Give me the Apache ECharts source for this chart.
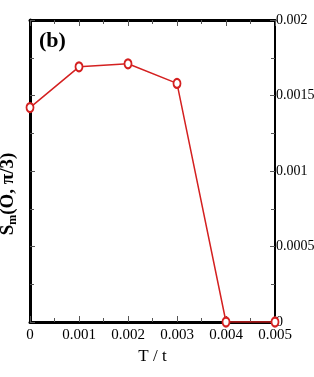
<!DOCTYPE html>
<html>
<head>
<meta charset="utf-8">
<script src="https://cdn.jsdelivr.net/npm/echarts@6/dist/echarts.min.js"></script>
<style>html,body{margin:0;padding:0;background:#fff;}#c{width:314px;height:377px;}</style>
</head>
<body>
<div id="c"></div>
<script>
var xValues = [0, 0.001, 0.002, 0.003, 0.004, 0.005];
var smValues = [0.00142, 0.00169, 0.00171, 0.00158, 0, 0];
var xTicks = ['0', '0.001', '0.002', '0.003', '0.004', '0.005'];
var yTicks = ['0', '0.0005', '0.001', '0.0015', '0.002'];

var xMap = {}; xValues.forEach(function(v,i){ xMap[v.toFixed(4)] = xTicks[i]; });
var yMap = {}; [0,0.0005,0.001,0.0015,0.002].forEach(function(v,i){ yMap[v.toFixed(5)] = yTicks[i]; });

var chart = echarts.init(document.getElementById('c'));
var font = 'Liberation Serif';
chart.setOption({
  animation: false,
  backgroundColor: '#fff',
  title: {
    text: '(b)', left: 34, top: 25,
    textStyle: { fontFamily: font, fontWeight: 'bold', fontSize: 22, color: '#000' }
  },
  grid: { left: 30, right: 39, top: 20, bottom: 55, containLabel: false, outerBoundsMode: 'none' },
  xAxis: [{
    type: 'value', position: 'bottom', min: 0, max: 0.005, interval: 0.001,
    axisLine: { show: true, onZero: false, lineStyle: { color: '#000', width: 3 } },
    axisTick: { inside: true, length: 6, lineStyle: { color: '#555', width: 1 } },
    minorTick: { show: true, splitNumber: 2, length: 4, lineStyle: { color: '#555' } },
    splitLine: { show: false },
    axisLabel: { fontFamily: font, fontSize: 15, color: '#000', margin: 6,
      formatter: function(v){ return xMap[v.toFixed(4)] || ''; } },
    name: 'T / t', nameLocation: 'middle', nameGap: 26,
    nameTextStyle: { fontFamily: font, fontSize: 17, color: '#000' }
  }, {
    type: 'value', position: 'top', min: 0, max: 0.005, interval: 0.001,
    axisLine: { show: true, onZero: false, lineStyle: { color: '#000', width: 3 } },
    axisTick: { inside: true, length: 6, lineStyle: { color: '#555', width: 1 } },
    minorTick: { show: true, splitNumber: 2, length: 4, lineStyle: { color: '#555' } },
    splitLine: { show: false }, axisLabel: { show: false }
  }],
  yAxis: [{
    type: 'value', position: 'left', min: 0, max: 0.002, interval: 0.0005,
    axisLine: { show: true, onZero: false, lineStyle: { color: '#000', width: 3 } },
    axisTick: { inside: true, length: 5, lineStyle: { color: '#555', width: 1 } },
    minorTick: { show: true, splitNumber: 2, length: 4, lineStyle: { color: '#555' } },
    splitLine: { show: false }, axisLabel: { show: false },
    name: 'S{sub|m}(O, π/3)', nameLocation: 'middle', nameGap: 11, nameRotate: 90,
    nameTextStyle: { fontFamily: font, fontSize: 19, fontWeight: 'bold', color: '#000',
      padding: [0, 46, 0, 0],
      rich: { sub: { fontFamily: font, fontSize: 12, fontWeight: 'bold', color: '#000', verticalAlign: 'bottom', padding: [9,0,0,0] } } }
  }, {
    type: 'value', position: 'right', min: 0, max: 0.002, interval: 0.0005,
    axisLine: { show: true, onZero: false, lineStyle: { color: '#000', width: 2 } },
    axisTick: { inside: true, length: 5, lineStyle: { color: '#555', width: 1 } },
    minorTick: { show: true, splitNumber: 2, length: 4, lineStyle: { color: '#555' } },
    splitLine: { show: false },
    axisLabel: { fontFamily: font, fontSize: 14, color: '#000', margin: 1,
      formatter: function(v){ return yMap[v.toFixed(5)] || ''; } }
  }],
  series: [{
    type: 'line',
    data: xValues.map(function(x,i){ return [x, smValues[i]]; }),
    symbol: 'emptyCircle', symbolSize: [7, 9],
    lineStyle: { color: '#d42020', width: 1.5 },
    itemStyle: { color: '#d42020', borderColor: '#d42020', borderWidth: 1 },
    z: 1
  }]
});
</script>
</body>
</html>
